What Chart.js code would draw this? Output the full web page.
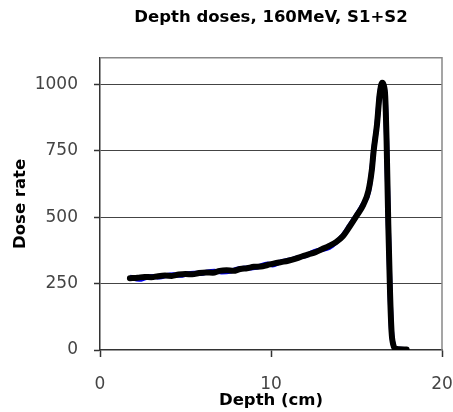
<!DOCTYPE html>
<html>
<head>
<meta charset="utf-8">
<script src="https://cdn.jsdelivr.net/npm/chart.js@4/dist/chart.umd.min.js"></script>
<style>
  html, body { margin: 0; padding: 0; background: #fff; }
  #wrap { width: 453px; height: 412px; }
</style>
</head>
<body>
<div id="wrap"><canvas id="c" width="453" height="412"></canvas></div>
<script>
// ---- data ----
const chartTitle = "Depth doses, 160MeV, S1+S2";
const xTitle = "Depth (cm)";
const yTitle = "Dose rate";
const xTicks = [0, 10, 20];
const yTicks = [0, 250, 500, 750, 1000];

const depthBlue = [1.75,2.3,2.7,3.1,3.5,3.9,4.3,4.7,5.1,5.5,5.9,6.3,6.7,7.1,7.6,8.0,8.4,8.8,9.2,9.8,10.1,10.5,10.9,11.3,11.7,12.1,12.5,12.9,13.4,13.8,14.2,14.6,15.0,15.4,15.7,15.9,16.0,16.2,16.35,16.5,16.6,16.68,16.76,16.86,16.96,17.05,17.15,17.25,17.5,17.93];
const doseBlue  = [274,266,273,277,275,281,283,281,287,289,288,294,296,294,296,304,308,309,312,324,320,330,336,342,350,357,370,377,386,405,430,468,507,550,595,682,750,852,962,1004,993,952,790,475,222,70,21,6,3,2];

const depthBlack = [1.75,2.2,2.6,3.0,3.4,3.8,4.2,4.6,5.0,5.4,5.8,6.2,6.6,7.0,7.4,7.8,8.2,8.6,9.0,9.4,9.8,10.2,10.6,11.0,11.4,11.8,12.2,12.6,13.0,13.4,13.8,14.2,14.6,15.0,15.4,15.7,15.9,16.0,16.2,16.35,16.5,16.6,16.68,16.76,16.86,16.96,17.05,17.15,17.25,17.5,17.93];
const doseBlack  = [270,272,275,274,278,280,279,284,286,285,290,292,291,298,300,298,305,308,313,314,320,326,331,336,343,352,360,368,380,392,406,428,465,505,547,600,680,748,850,960,1006,995,955,786,471,220,69,20,6,3,2];

const toPts = (xs, ys) => xs.map((x, i) => ({ x: x, y: ys[i] }));

const frame = {
  id: 'frame',
  beforeDatasetsDraw(chart) {
    const a = chart.chartArea, ctx = chart.ctx;
    ctx.save();
    ctx.strokeStyle = '#888';
    ctx.lineWidth = 1.5;
    ctx.beginPath();
    ctx.moveTo(a.left, a.top);
    ctx.lineTo(a.right, a.top);
    ctx.lineTo(a.right, a.bottom);
    ctx.stroke();
    ctx.restore();
  }
};

new Chart(document.getElementById('c'), {
  type: 'line',
  data: {
    datasets: [
      { label: 'S1', data: toPts(depthBlue, doseBlue), borderColor: '#0000ff', borderWidth: 5,
        pointRadius: 0, cubicInterpolationMode: 'monotone', order: 2 },
      { label: 'S2', data: toPts(depthBlack, doseBlack), borderColor: '#000000', borderWidth: 6,
        pointRadius: 0, cubicInterpolationMode: 'monotone', borderCapStyle: 'round', borderJoinStyle: 'round', order: 1 }
    ]
  },
  options: {
    responsive: false,
    animation: false,
    layout: { padding: { left: 0, right: 11, top: 0, bottom: 0 } },
    plugins: {
      legend: { display: false },
      tooltip: { enabled: false },
      title: {
        display: true, text: chartTitle, fullSize: false, color: '#000',
        font: { family: 'DejaVu Sans', size: 16.5, weight: 'bold' },
        padding: { top: 8, bottom: 30 }
      }
    },
    scales: {
      x: {
        type: 'linear', min: 0, max: 20,
        afterBuildTicks: s => { s.ticks = xTicks.map(v => ({ value: v })); },
        afterFit: s => { s.height = 62; s.paddingLeft = 0; s.paddingRight = 0; },
        grid: { drawOnChartArea: false, tickLength: 7, tickColor: '#333', tickWidth: 1.5 },
        border: { color: '#333', width: 1.5 },
        ticks: { color: '#444', padding: 17, maxRotation: 0, font: { family: 'DejaVu Sans', size: 17 },
                 callback: v => String(v) },
        title: { display: true, text: xTitle, color: '#000', padding: { top: 0, bottom: 1 },
                 font: { family: 'DejaVu Sans', size: 16.5, weight: 'bold' } }
      },
      y: {
        type: 'linear', min: 0, max: 1100,
        afterBuildTicks: s => { s.ticks = yTicks.map(v => ({ value: v })); },
        afterFit: s => { s.width = 100; s.paddingTop = 0; s.paddingBottom = 0; },
        grid: {
          color: c => (c.tick && c.tick.value === 0) ? 'rgba(0,0,0,0)' : '#444',
          lineWidth: 1, borderDash: [1, 2], tickBorderDash: [], tickColor: '#333', tickLength: 6, tickWidth: 1.5
        },
        border: { color: '#333', width: 1.5 },
        ticks: { color: '#444', padding: 16, font: { family: 'DejaVu Sans', size: 17 },
                 callback: v => String(v) },
        title: { display: true, text: yTitle, color: '#000', padding: { top: 11, bottom: 0 },
                 font: { family: 'DejaVu Sans', size: 16.5, weight: 'bold' } }
      }
    }
  },
  plugins: [frame]
});
</script>
</body>
</html>
